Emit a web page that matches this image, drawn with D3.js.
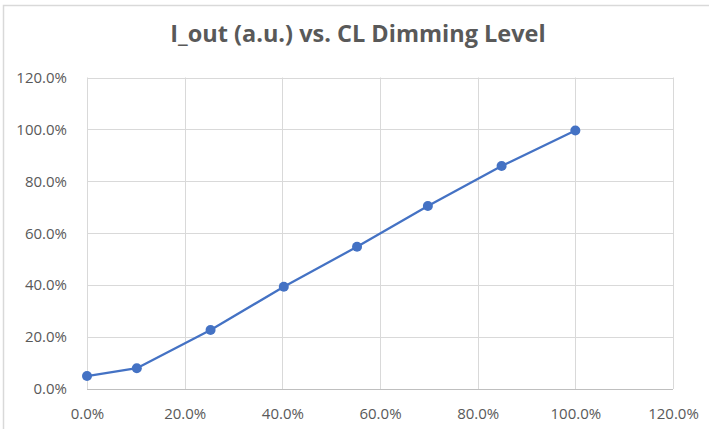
<!DOCTYPE html>
<html>
<head>
<meta charset="utf-8">
<script src="https://cdn.jsdelivr.net/npm/d3@7"></script>
<style>
  body { margin: 0; background: #fff; }
  text { font-family: "Open Sans", sans-serif; fill: #595959; }
</style>
</head>
<body>
<div id="chart"></div>
<script>
// dimming level (x) and output current (y), both as fractions
const dimmingLevel = [0, 0.102, 0.253, 0.403, 0.553, 0.698, 0.849, 1.00];
const iOut = [0.050, 0.080, 0.227, 0.394, 0.548, 0.705, 0.859, 0.996];
const xTicks = [0, 0.2, 0.4, 0.6, 0.8, 1.0, 1.2];
const yTicks = [0, 0.2, 0.4, 0.6, 0.8, 1.0, 1.2];
const chartTitle = "I_out (a.u.) vs. CL Dimming Level";

const width = 709, height = 429;
const margin = {top: 77.5, right: 36, bottom: 40, left: 87};

let svg = d3.select("#chart").append("svg")
    .attr("width", width)
    .attr("height", height);

// outer chart border
svg.append("rect")
    .attr("x", 3.5).attr("y", 5.5)
    .attr("width", width + 10).attr("height", height + 10)
    .attr("fill", "none")
    .attr("stroke", "#d9d9d9")
    .attr("stroke-width", 1.5);

let x = d3.scaleLinear().domain([0, 1.2]).range([margin.left, width - margin.right]);
let y = d3.scaleLinear().domain([0, 1.2]).range([height - margin.bottom, margin.top]);
let fmt = d3.format(".1%");

// gridlines
svg.append("g")
    .selectAll("line")
    .data(xTicks)
    .enter().append("line")
    .attr("x1", d => Math.round(x(d)) + 0.5)
    .attr("x2", d => Math.round(x(d)) + 0.5)
    .attr("y1", y(0)).attr("y2", y(1.2))
    .attr("stroke", "#d9d9d9");

svg.append("g")
    .selectAll("line")
    .data(yTicks)
    .enter().append("line")
    .attr("x1", x(0)).attr("x2", x(1.2))
    .attr("y1", d => Math.round(y(d)) + 0.5)
    .attr("y2", d => Math.round(y(d)) + 0.5)
    .attr("stroke", d => d === 0 ? "#bfbfbf" : "#d9d9d9");

// axes (labels only, Excel style)
let xAxis = svg.append("g")
    .attr("transform", `translate(0,${y(0)})`)
    .call(d3.axisBottom(x).tickValues(xTicks).tickFormat(fmt).tickSize(0).tickPadding(19));
xAxis.select(".domain").remove();

let yAxis = svg.append("g")
    .attr("transform", `translate(${x(0)},0)`)
    .call(d3.axisLeft(y).tickValues(yTicks).tickFormat(fmt).tickSize(0).tickPadding(20));
yAxis.select(".domain").remove();

svg.selectAll(".tick text")
    .style("font-size", "15px")
    .style("font-family", "'Open Sans', sans-serif")
    .attr("fill", "#595959");

// title
svg.append("text")
    .attr("x", 358)
    .attr("y", 42)
    .attr("text-anchor", "middle")
    .style("font-size", "23.5px")
    .style("font-weight", "bold")
    .text(chartTitle);

// series
let points = dimmingLevel.map((d, i) => ({x: d, y: iOut[i]}));

svg.append("path")
    .datum(points)
    .attr("fill", "none")
    .attr("stroke", "#4472c4")
    .attr("stroke-width", 2.25)
    .attr("stroke-linejoin", "round")
    .attr("d", d3.line().x(d => x(d.x)).y(d => y(d.y)));

svg.append("g")
    .selectAll("circle")
    .data(points)
    .enter().append("circle")
    .attr("cx", d => x(d.x))
    .attr("cy", d => y(d.y))
    .attr("r", 5)
    .attr("fill", "#4472c4");
</script>
</body>
</html>
